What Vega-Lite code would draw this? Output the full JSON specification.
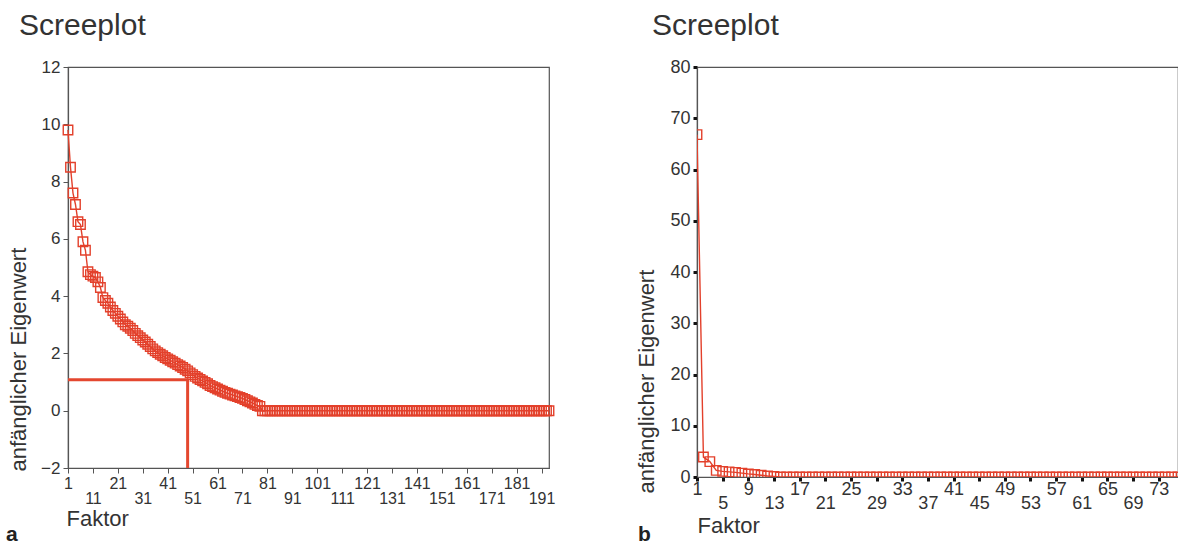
{
"$schema": "https://vega.github.io/schema/vega-lite/v6.json",
"background": "white",
"padding": {"left": 5, "top": 10, "right": 0, "bottom": 0},
"config": {
  "font": "Liberation Sans",
  "view": {"stroke": "#555555", "strokeWidth": 1.2},
  "axis": {"domainColor": "#555555", "domainWidth": 1.2, "tickColor": "#555555", "labelColor": "#333333", "titleColor": "#333333", "labelFontSize": 16, "titleFontSize": 22, "titleFontWeight": "normal", "grid": false, "labelFont": "Liberation Sans", "titleFont": "Liberation Sans", "labelOverlap": false, "labelFlush": false},
  "title": {"fontSize": 30, "fontWeight": "normal", "color": "#333333", "anchor": "start", "font": "Liberation Sans", "frame": "group"},
  "concat": {"spacing": 77}
},
"datasets": {
  "left": [
    {"f":1,"e":9.8},{"f":2,"e":8.5},{"f":3,"e":7.6},{"f":4,"e":7.2},{"f":5,"e":6.6},{"f":6,"e":6.5},{"f":7,"e":5.9},{"f":8,"e":5.6},{"f":9,"e":4.85},{"f":10,"e":4.75},
    {"f":11,"e":4.7},{"f":12,"e":4.65},{"f":13,"e":4.5},{"f":14,"e":4.3},{"f":15,"e":3.95},{"f":16,"e":3.85},{"f":17,"e":3.75},{"f":18,"e":3.62},{"f":19,"e":3.5},{"f":20,"e":3.4},
    {"f":21,"e":3.3},{"f":22,"e":3.2},{"f":23,"e":3.1},{"f":24,"e":3.0},{"f":25,"e":2.95},{"f":26,"e":2.88},{"f":27,"e":2.8},{"f":28,"e":2.7},{"f":29,"e":2.62},{"f":30,"e":2.55},
    {"f":31,"e":2.47},{"f":32,"e":2.4},{"f":33,"e":2.32},{"f":34,"e":2.24},{"f":35,"e":2.16},{"f":36,"e":2.09},{"f":37,"e":2.03},{"f":38,"e":1.97},{"f":39,"e":1.92},{"f":40,"e":1.86},
    {"f":41,"e":1.81},{"f":42,"e":1.76},{"f":43,"e":1.71},{"f":44,"e":1.66},{"f":45,"e":1.61},{"f":46,"e":1.56},{"f":47,"e":1.51},{"f":48,"e":1.45},{"f":49,"e":1.39},{"f":50,"e":1.32},
    {"f":51,"e":1.26},{"f":52,"e":1.2},{"f":53,"e":1.14},{"f":54,"e":1.09},{"f":55,"e":1.04},{"f":56,"e":0.99},{"f":57,"e":0.94},{"f":58,"e":0.88},{"f":59,"e":0.84},{"f":60,"e":0.8},
    {"f":61,"e":0.76},{"f":62,"e":0.72},{"f":63,"e":0.68},{"f":64,"e":0.64},{"f":65,"e":0.61},{"f":66,"e":0.58},{"f":67,"e":0.55},{"f":68,"e":0.52},{"f":69,"e":0.49},{"f":70,"e":0.46},
    {"f":71,"e":0.43},{"f":72,"e":0.39},{"f":73,"e":0.35},{"f":74,"e":0.31},{"f":75,"e":0.27},{"f":76,"e":0.22},{"f":77,"e":0.18},{"f":78,"e":0.15},{"f":79,"e":0},{"f":80,"e":0},
    {"f":81,"e":0},{"f":82,"e":0},{"f":83,"e":0},{"f":84,"e":0},{"f":85,"e":0},{"f":86,"e":0},{"f":87,"e":0},{"f":88,"e":0},{"f":89,"e":0},{"f":90,"e":0},
    {"f":91,"e":0},{"f":92,"e":0},{"f":93,"e":0},{"f":94,"e":0},{"f":95,"e":0},{"f":96,"e":0},{"f":97,"e":0},{"f":98,"e":0},{"f":99,"e":0},{"f":100,"e":0},
    {"f":101,"e":0},{"f":102,"e":0},{"f":103,"e":0},{"f":104,"e":0},{"f":105,"e":0},{"f":106,"e":0},{"f":107,"e":0},{"f":108,"e":0},{"f":109,"e":0},{"f":110,"e":0},
    {"f":111,"e":0},{"f":112,"e":0},{"f":113,"e":0},{"f":114,"e":0},{"f":115,"e":0},{"f":116,"e":0},{"f":117,"e":0},{"f":118,"e":0},{"f":119,"e":0},{"f":120,"e":0},
    {"f":121,"e":0},{"f":122,"e":0},{"f":123,"e":0},{"f":124,"e":0},{"f":125,"e":0},{"f":126,"e":0},{"f":127,"e":0},{"f":128,"e":0},{"f":129,"e":0},{"f":130,"e":0},
    {"f":131,"e":0},{"f":132,"e":0},{"f":133,"e":0},{"f":134,"e":0},{"f":135,"e":0},{"f":136,"e":0},{"f":137,"e":0},{"f":138,"e":0},{"f":139,"e":0},{"f":140,"e":0},
    {"f":141,"e":0},{"f":142,"e":0},{"f":143,"e":0},{"f":144,"e":0},{"f":145,"e":0},{"f":146,"e":0},{"f":147,"e":0},{"f":148,"e":0},{"f":149,"e":0},{"f":150,"e":0},
    {"f":151,"e":0},{"f":152,"e":0},{"f":153,"e":0},{"f":154,"e":0},{"f":155,"e":0},{"f":156,"e":0},{"f":157,"e":0},{"f":158,"e":0},{"f":159,"e":0},{"f":160,"e":0},
    {"f":161,"e":0},{"f":162,"e":0},{"f":163,"e":0},{"f":164,"e":0},{"f":165,"e":0},{"f":166,"e":0},{"f":167,"e":0},{"f":168,"e":0},{"f":169,"e":0},{"f":170,"e":0},
    {"f":171,"e":0},{"f":172,"e":0},{"f":173,"e":0},{"f":174,"e":0},{"f":175,"e":0},{"f":176,"e":0},{"f":177,"e":0},{"f":178,"e":0},{"f":179,"e":0},{"f":180,"e":0},
    {"f":181,"e":0},{"f":182,"e":0},{"f":183,"e":0},{"f":184,"e":0},{"f":185,"e":0},{"f":186,"e":0},{"f":187,"e":0},{"f":188,"e":0},{"f":189,"e":0},{"f":190,"e":0},
    {"f":191,"e":0},{"f":192,"e":0},{"f":193,"e":0},{"f":194,"e":0}
  ],
  "right": [
    {"f":1,"e":66.8},{"f":2,"e":3.9},{"f":3,"e":3.0},{"f":4,"e":1.3},{"f":5,"e":1.1},{"f":6,"e":1.0},{"f":7,"e":0.9},{"f":8,"e":0.75},{"f":9,"e":0.6},{"f":10,"e":0.5},
    {"f":11,"e":0.35},{"f":12,"e":0.2},{"f":13,"e":0.1},{"f":14,"e":0},{"f":15,"e":0},{"f":16,"e":0},{"f":17,"e":0},{"f":18,"e":0},{"f":19,"e":0},{"f":20,"e":0},
    {"f":21,"e":0},{"f":22,"e":0},{"f":23,"e":0},{"f":24,"e":0},{"f":25,"e":0},{"f":26,"e":0},{"f":27,"e":0},{"f":28,"e":0},{"f":29,"e":0},{"f":30,"e":0},
    {"f":31,"e":0},{"f":32,"e":0},{"f":33,"e":0},{"f":34,"e":0},{"f":35,"e":0},{"f":36,"e":0},{"f":37,"e":0},{"f":38,"e":0},{"f":39,"e":0},{"f":40,"e":0},
    {"f":41,"e":0},{"f":42,"e":0},{"f":43,"e":0},{"f":44,"e":0},{"f":45,"e":0},{"f":46,"e":0},{"f":47,"e":0},{"f":48,"e":0},{"f":49,"e":0},{"f":50,"e":0},
    {"f":51,"e":0},{"f":52,"e":0},{"f":53,"e":0},{"f":54,"e":0},{"f":55,"e":0},{"f":56,"e":0},{"f":57,"e":0},{"f":58,"e":0},{"f":59,"e":0},{"f":60,"e":0},
    {"f":61,"e":0},{"f":62,"e":0},{"f":63,"e":0},{"f":64,"e":0},{"f":65,"e":0},{"f":66,"e":0},{"f":67,"e":0},{"f":68,"e":0},{"f":69,"e":0},{"f":70,"e":0},
    {"f":71,"e":0},{"f":72,"e":0},{"f":73,"e":0},{"f":74,"e":0},{"f":75,"e":0},{"f":76,"e":0}
  ],
  "kaiserH": [{"f":1,"f2":49,"e":1.08}],
  "kaiserV": [{"f":49,"e":-2,"e2":1.08}]
},
"hconcat": [
  {
    "width": 481, "height": 401,
    "title": {"text": "Screeplot", "dx": -49, "offset": 17},
    "resolve": {"axis": {"x": "independent"}},
    "layer": [
      {
        "data": {"name": "left"},
        "mark": {"type": "line", "color": "#e3402b", "strokeWidth": 1.4},
        "encoding": {
          "x": {"field": "f", "type": "quantitative", "scale": {"domain": [1, 194], "nice": false, "zero": false},
                "axis": {"orient": "bottom", "values": [1,21,41,61,81,101,121,141,161,181], "title": null, "tickSize": 5, "labelPadding": 2}},
          "y": {"field": "e", "type": "quantitative", "scale": {"domain": [-2, 12], "nice": false, "zero": false},
                "axis": {"values": [-2,0,2,4,6,8,10,12], "labelFontSize": 17, "title": "anfänglicher Eigenwert", "titleAnchor": "start", "titleAlign": "left", "titleY": 404, "titlePadding": 10, "tickSize": 5, "labelPadding": 3}}
        }
      },
      {
        "data": {"name": "kaiserH"},
        "mark": {"type": "rule", "color": "#e4472f", "strokeWidth": 3},
        "encoding": {"x": {"field": "f", "type": "quantitative", "axis": null}, "x2": {"field": "f2"}, "y": {"field": "e", "type": "quantitative"}}
      },
      {
        "data": {"name": "kaiserV"},
        "mark": {"type": "rule", "color": "#e4472f", "strokeWidth": 3},
        "encoding": {"x": {"field": "f", "type": "quantitative", "axis": null}, "y": {"field": "e", "type": "quantitative"}, "y2": {"field": "e2"}}
      },
      {
        "data": {"name": "left"},
        "mark": {"type": "point", "shape": "square", "size": 90, "filled": false, "color": "#e3402b", "strokeWidth": 1.4, "opacity": 1},
        "encoding": {
          "x": {"field": "f", "type": "quantitative",
                "axis": {"orient": "bottom", "values": [11,31,51,71,91,111,131,151,171,191], "title": "Faktor", "titleAnchor": "start", "titleAlign": "left", "titleX": -2, "titlePadding": 2, "tickSize": 5, "labelPadding": 17}},
          "y": {"field": "e", "type": "quantitative"}
        }
      },
      {
        "data": {"values": [{"t": "a"}]},
        "mark": {"type": "text", "fontSize": 21, "fontWeight": "bold", "align": "left", "baseline": "alphabetic", "color": "#222222"},
        "encoding": {"text": {"field": "t"}, "x": {"datum": -23.9, "axis": null}, "y": {"datum": -4.55}}
      }
    ]
  },
  {
    "width": 481, "height": 410,
    "title": {"text": "Screeplot", "dx": -45, "offset": 17},
    "resolve": {"axis": {"x": "independent"}},
    "layer": [
      {
        "data": {"name": "right"},
        "mark": {"type": "line", "color": "#e3402b", "strokeWidth": 1.4, "clip": true},
        "encoding": {
          "x": {"field": "f", "type": "quantitative", "scale": {"domain": [1, 76], "nice": false, "zero": false},
                "axis": {"orient": "bottom", "values": [1,9,17,25,33,41,49,57,65,73], "title": null, "tickSize": 4, "tickWidth": 3, "tickColor": "#111111", "labelFontSize": 18, "labelPadding": -1}},
          "y": {"field": "e", "type": "quantitative", "scale": {"domain": [0, 80], "nice": false, "zero": false},
                "axis": {"values": [0,10,20,30,40,50,60,70,80], "labelFontSize": 18, "title": "anfänglicher Eigenwert", "titleAnchor": "start", "titleAlign": "left", "titleY": 426, "titlePadding": 11, "tickSize": 4, "tickWidth": 3, "tickColor": "#111111", "labelPadding": 3}}
        }
      },
      {
        "data": {"name": "right"},
        "mark": {"type": "point", "shape": "square", "size": 90, "filled": false, "color": "#e3402b", "strokeWidth": 1.4, "opacity": 1, "clip": true},
        "encoding": {
          "x": {"field": "f", "type": "quantitative",
                "axis": {"orient": "bottom", "values": [5,13,21,29,37,45,53,61,69], "title": "Faktor", "titleAnchor": "start", "titleAlign": "left", "titleX": 0, "titlePadding": 3, "tickSize": 4, "tickWidth": 3, "tickColor": "#111111", "labelFontSize": 18, "labelPadding": 13}},
          "y": {"field": "e", "type": "quantitative"}
        }
      },
      {
        "data": {"values": [{"t": "b"}]},
        "mark": {"type": "text", "fontSize": 21, "fontWeight": "bold", "align": "left", "baseline": "alphabetic", "color": "#222222"},
        "encoding": {"text": {"field": "t"}, "x": {"datum": -8.2, "axis": null}, "y": {"datum": -12.5}}
      }
    ]
  }
]
}
